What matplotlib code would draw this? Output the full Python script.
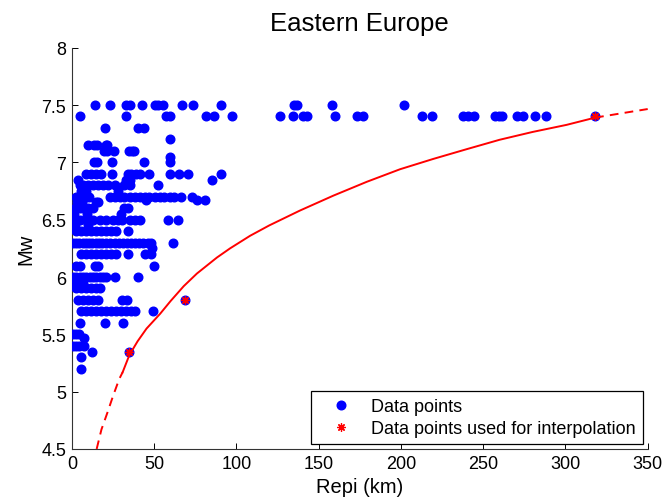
import matplotlib
matplotlib.use("Agg")
import matplotlib.pyplot as plt
from matplotlib.ticker import FormatStrFormatter

plt.rcParams['font.family'] = ['Liberation Sans', 'DejaVu Sans']

# catalogue points, one list of Repi (km) per magnitude row
rows = [
    (7.5, [13.8, 23, 32.7, 35.1, 42.8, 50.3, 52.3, 55.4, 67.1, 73.6, 90.4, 135, 137, 158, 202]),
    (7.4, [5.2, 32.7, 57.4, 59.4, 81.7, 86.7, 97.3, 126.6, 134.3, 140.7, 142.8, 160, 173.2,
           177.2, 213, 219, 238, 241, 244.4, 257, 259.8, 261.2, 270.7, 274.3, 281.4, 287.9, 318]),
    (7.3, [20.3, 40.2, 43.6]),
    (7.2, [59.8]),
    (7.15, [9.6, 13.6, 15.6, 20.6, 21.6]),
    (7.1, [19.3, 21.4, 25.4, 34.5, 36.6, 37.5]),
    (7.05, [59.4]),
    (7.0, [13.2, 15.3, 24.4, 43.6, 59.8]),
    (6.9, [8.8, 11.8, 14.9, 17.9, 24.4, 34.1, 36.1, 39.2, 41.2, 46.9, 59.4, 65.1, 70.6, 90.4]),
    (6.85, [3.5, 33.1, 35.1, 85.1]),
    (6.8, [4.7, 6.8, 9.8, 12.9, 15.9, 18.9, 22, 26, 31.5, 35.1, 52.5]),
    (6.75, [5.7, 8.7, 28]),
    (6.7, [2.7, 4.7, 8.8, 10.6, 23, 26, 29, 32, 35.1, 38.1, 41.2, 44.2, 47.2, 50.3, 53.3,
           56.3, 59.4, 62.4, 66.5, 73.2]),
    (6.67, [45.2, 76, 81]),
    (6.65, [3.0, 6.0, 14.5, 16.0]),
    (6.6, [2.0, 4.7, 7.0, 10.0, 13.0, 31.5, 34.0]),
    (6.55, [1.5, 9.0, 30.1]),
    (6.5, [0.7, 4.7, 8.8, 12.9, 16.9, 20.9, 25, 28, 30.5, 35.1, 38.1, 41.2, 58.6, 64.3]),
    (6.45, [2.0, 10.0]),
    (6.4, [2.7, 5.8, 8.8, 11.8, 14.9, 17.9, 20.9, 24, 27, 34.1]),
    (6.3, [0.8, 2.5, 4.5, 6.5, 8.5, 10.5, 12.5, 14.5, 16.5, 18.5, 21, 23.5, 26, 28.5, 31,
           33.5, 36, 38.5, 41, 43.5, 46, 48.3, 61.6]),
    (6.25, [49]),
    (6.2, [5.8, 8.8, 11.8, 14.9, 17.9, 20.9, 24, 27, 34.1, 44.2, 48]),
    (6.1, [2.7, 4.7, 13.9, 15.9, 49.7]),
    (6.0, [0.7, 2.7, 4.7, 6.8, 8.8, 10.8, 12.9, 14.9, 16.9, 18.9, 20.9, 26, 40.4]),
    (5.95, [2.7, 4.7, 6.8]),
    (5.9, [2.7, 5.8, 8.8, 11.8, 14.9, 16.9]),
    (5.8, [3.9, 7, 10, 13, 16.1, 30.3, 33.3, 68.5]),
    (5.7, [5.8, 8.8, 11.8, 14.9, 17.9, 20.9, 24, 27, 30.1, 33.1, 36.1, 38.5, 49.3]),
    (5.6, [4.7, 19.9, 31]),
    (5.5, [0.9, 2.7, 4.5]),
    (5.47, [7.5]),
    (5.4, [0.9, 2.7, 4.1, 7.2]),
    (5.35, [12.5, 35]),
    (5.3, [5.5]),
    (5.2, [5.4]),
]

# points used for the interpolation
interp_repi = [35, 68.5, 318]
interp_mw = [5.35, 5.8, 7.4]

# fitted curve
curve_repi = [15.1, 18, 21.7, 25, 28.8, 30.9, 35, 40, 45.4, 53.7, 60, 68, 76, 88.2, 96.2,
              108.4, 120, 138.7, 159, 179.2, 199.5, 219.7, 240, 260, 280, 300.7, 318, 335, 350]
curve_mw = [4.5, 4.67, 4.82, 4.96, 5.11, 5.17, 5.32, 5.44, 5.55, 5.68, 5.79, 5.92, 6.03, 6.17,
            6.25, 6.36, 6.45, 6.58, 6.71, 6.83, 6.94, 7.03, 7.115, 7.197, 7.265, 7.327, 7.39,
            7.43, 7.465]
solid_from, solid_to = 30.9, 318

repi = [r for m, rs in rows for r in rs]
mw = [m for m, rs in rows for r in rs]

fig = plt.figure(figsize=(6.65, 5.02), dpi=100)
ax = fig.add_axes([0.108, 0.1036, 0.866, 0.7994])

ax.plot(repi, mw, 'o', color='blue', ms=6.2, mec='blue', label='Data points', zorder=3)

lo = [(r, m) for r, m in zip(curve_repi, curve_mw) if r <= solid_from]
mid = [(r, m) for r, m in zip(curve_repi, curve_mw) if solid_from <= r <= solid_to]
hi = [(r, m) for r, m in zip(curve_repi, curve_mw) if r >= solid_to]
for seg, ls in ((lo, (0, (4.5, 3.2))), (mid, '-'), (hi, (0, (4.5, 3.2)))):
    ax.plot([p[0] for p in seg], [p[1] for p in seg], color='red', lw=1.4, linestyle=ls,
            zorder=4, solid_joinstyle='round')

ax.plot(interp_repi, interp_mw, linestyle='none', marker=(8, 2, 0), color='red', ms=6,
        mew=0.9, label='Data points used for interpolation', zorder=5)

ax.set_xlim(0, 350)
ax.set_ylim(4.5, 8)
ax.set_xticks(range(0, 351, 50))
ax.set_yticks([4.5, 5, 5.5, 6, 6.5, 7, 7.5, 8])
ax.yaxis.set_major_formatter(FormatStrFormatter('%g'))
ax.tick_params(direction='in', length=4, width=0.7, labelsize=13, top=False, right=False, pad=4)
ax.spines['top'].set_visible(False)
ax.spines['right'].set_visible(False)
ax.spines['left'].set_color('#333333')
ax.spines['bottom'].set_color('#333333')

ax.set_title('Eastern Europe', fontsize=18.5, pad=13)
ax.set_xlabel('Repi (km)', fontsize=14.5, labelpad=4)
ax.set_ylabel('Mw', fontsize=14.5, labelpad=4)

leg = ax.legend(loc='lower right', bbox_to_anchor=(0.992, 0.012), borderaxespad=0,
                fontsize=13, fancybox=False, framealpha=1, edgecolor='black',
                handlelength=2.6, handletextpad=0.35, borderpad=0.4, labelspacing=0.28)
leg.get_frame().set_linewidth(0.9)

fig.savefig('out.png', dpi=100)
